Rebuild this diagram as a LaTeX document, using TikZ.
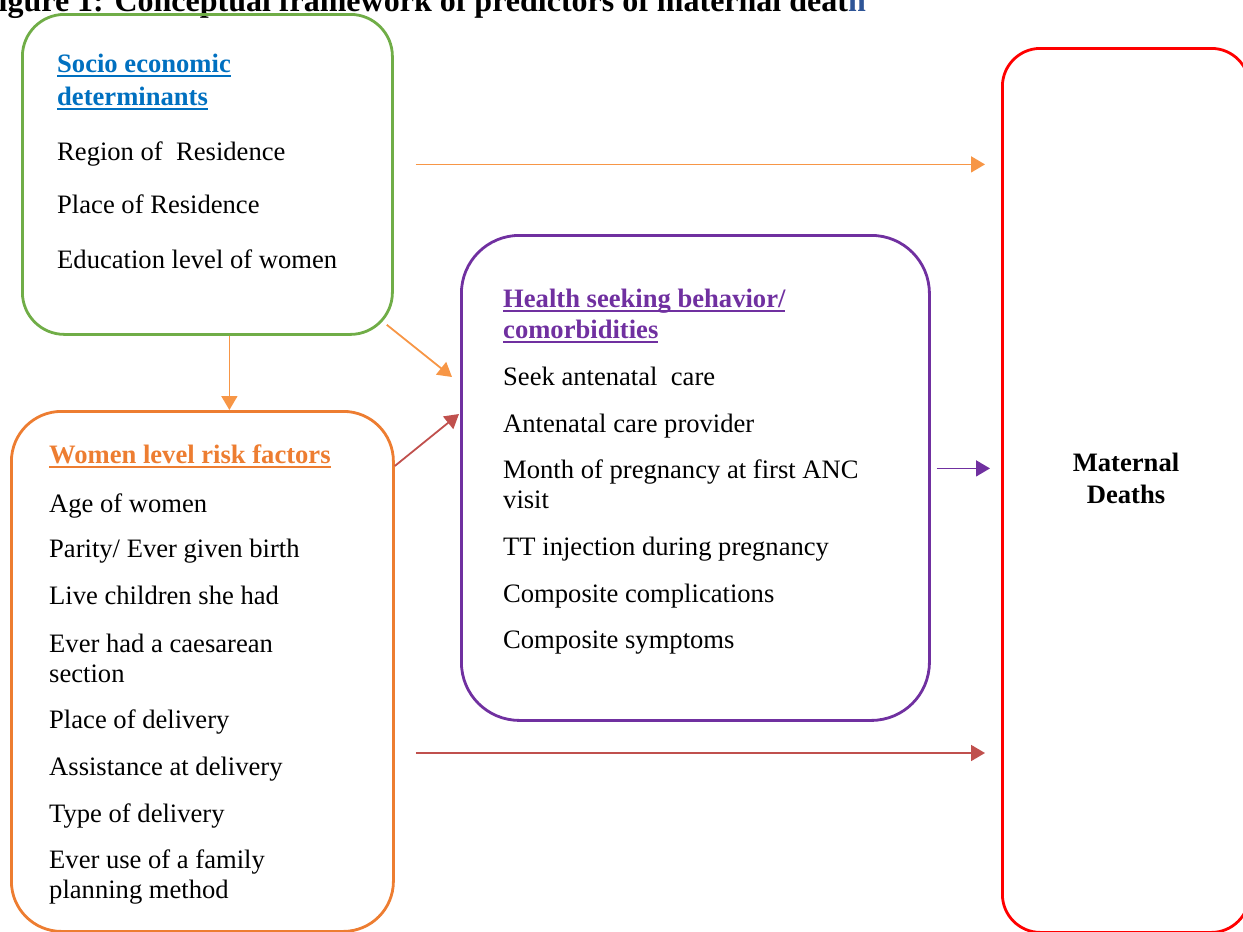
\documentclass[tikz,border=0pt]{standalone}
\usepackage{fontspec}
\setmainfont{Liberation Serif}
\usetikzlibrary{arrows.meta}
\definecolor{cgreen}{HTML}{70AD47}
\definecolor{corange}{HTML}{ED7D31}
\definecolor{carrow}{HTML}{F79646}
\definecolor{cbrown}{HTML}{C0504D}
\definecolor{cpurple}{HTML}{7030A0}
\definecolor{cred}{HTML}{FF0000}
\definecolor{cblue}{HTML}{0070C0}
\definecolor{tblue}{HTML}{2F5597}
\newcommand\hdul[1]{\setbox0=\hbox{#1}\rlap{\rule[-5pt]{\wd0}{2pt}}\box0}
\begin{document}
\begin{tikzpicture}[x=1pt,y=-1pt,
  font=\fontsize{26.6}{33}\selectfont,
  box/.style={draw, line width=2.8pt, rectangle, inner sep=0pt, anchor=north west},
  txt/.style={anchor=base west, inner sep=0pt},
  hd/.style={anchor=base west, inner sep=0pt, font=\bfseries\fontsize{26.6}{33}\selectfont},
  arr/.style={line width=1.8pt, -{Triangle[length=14pt,width=16pt]}}]
\useasboundingbox (0,0) rectangle (1243,932);
\clip (0,0) rectangle (1243,932);

% title (cut off at the top)
\node[anchor=base east, inner sep=0pt, font=\bfseries\fontsize{32}{37}\selectfont] (title) at (866,11)
  {Figure 1: Conceptual framework of predictors of maternal deat\textcolor{tblue}{h}};

% boxes
\node[box, draw=cgreen, rounded corners=42pt, minimum width=370pt, minimum height=320pt] (socio) at (21,13) {};
\node[box, draw=corange, rounded corners=50pt, minimum width=382pt, minimum height=520pt] (women) at (10,410) {};
\node[box, draw=cpurple, rounded corners=58pt, minimum width=468pt, minimum height=485pt] (health) at (460,234) {};
\node[box, draw=cred, rounded corners=38pt, minimum width=247pt, minimum height=884pt] (maternal) at (1001,47) {};

% socio economic texts
\node[hd, text=cblue] (s0a) at (57,72) {\hdul{Socio economic}};
\node[hd, text=cblue] (s0b) at (57,105) {\hdul{determinants}};
\node[txt] (s1) at (57,160) {Region of \ Residence};
\node[txt] (s2) at (57,213) {Place of Residence};
\node[txt] (s3) at (57,268) {Education level of women};

% women level texts
\node[hd, text=corange] (w0) at (49,463) {\hdul{Women level risk factors}};
\node[txt] (w1) at (49,512) {Age of women};
\node[txt] (w2) at (49,557) {Parity/ Ever given birth};
\node[txt] (w3) at (49,604) {Live children she had};
\node[txt] (w4a) at (49,652) {Ever had a caesarean};
\node[txt] (w4b) at (49,682) {section};
\node[txt] (w5) at (49,728) {Place of delivery};
\node[txt] (w6) at (49,775) {Assistance at delivery};
\node[txt] (w7) at (49,822) {Type of delivery};
\node[txt] (w8a) at (49,868) {Ever use of a family};
\node[txt] (w8b) at (49,898) {planning method};

% health seeking texts
\node[hd, text=cpurple] (h0a) at (503,307) {\hdul{Health seeking behavior/}};
\node[hd, text=cpurple] (h0b) at (503,338) {\hdul{comorbidities}};
\node[txt] (h1) at (503,385) {Seek antenatal \ care};
\node[txt] (h2) at (503,432) {Antenatal care provider};
\node[txt] (h3a) at (503,478) {Month of pregnancy at first ANC};
\node[txt] (h3b) at (503,508) {visit};
\node[txt] (h4) at (503,555) {TT injection during pregnancy};
\node[txt] (h5) at (503,602) {Composite complications};
\node[txt] (h6) at (503,648) {Composite symptoms};

% maternal deaths
\node[anchor=base, inner sep=0pt, font=\bfseries\fontsize{26.6}{33}\selectfont] (m1) at (1126,471) {Maternal};
\node[anchor=base, inner sep=0pt, font=\bfseries\fontsize{26.6}{33}\selectfont] (m2) at (1126,503) {Deaths};

% connectors
\path ([yshift=10pt]socio.east) coordinate (p1);
\draw[arr, draw=carrow, fill=carrow, shorten <=22pt, shorten >=16pt] (p1) -- (p1 -| maternal.west);

\path ([xshift=22pt]socio.south) coordinate (p2);
\draw[arr, draw=carrow, fill=carrow] (p2) -- (p2 |- women.north);

\draw[arr, draw=carrow, fill=carrow] ([xshift=-7pt,yshift=11pt]socio.south east) -- ([xshift=-8pt,yshift=-143pt]health.north west);

\draw[arr, draw=cbrown, fill=cbrown] ([yshift=-56pt]women.north east) -- ([xshift=-1pt,yshift=-180pt]health.north west);

\path ([yshift=9.5pt]health.east) coordinate (p5);
\draw[arr, draw=cpurple, fill=cpurple, shorten <=6pt, shorten >=11pt] (p5) -- (p5 -| maternal.west);

\path ([yshift=-343pt]women.north east) coordinate (p6);
\draw[arr, draw=cbrown, fill=cbrown, shorten <=21pt, shorten >=16pt] (p6) -- (p6 -| maternal.west);
\end{tikzpicture}
\end{document}
